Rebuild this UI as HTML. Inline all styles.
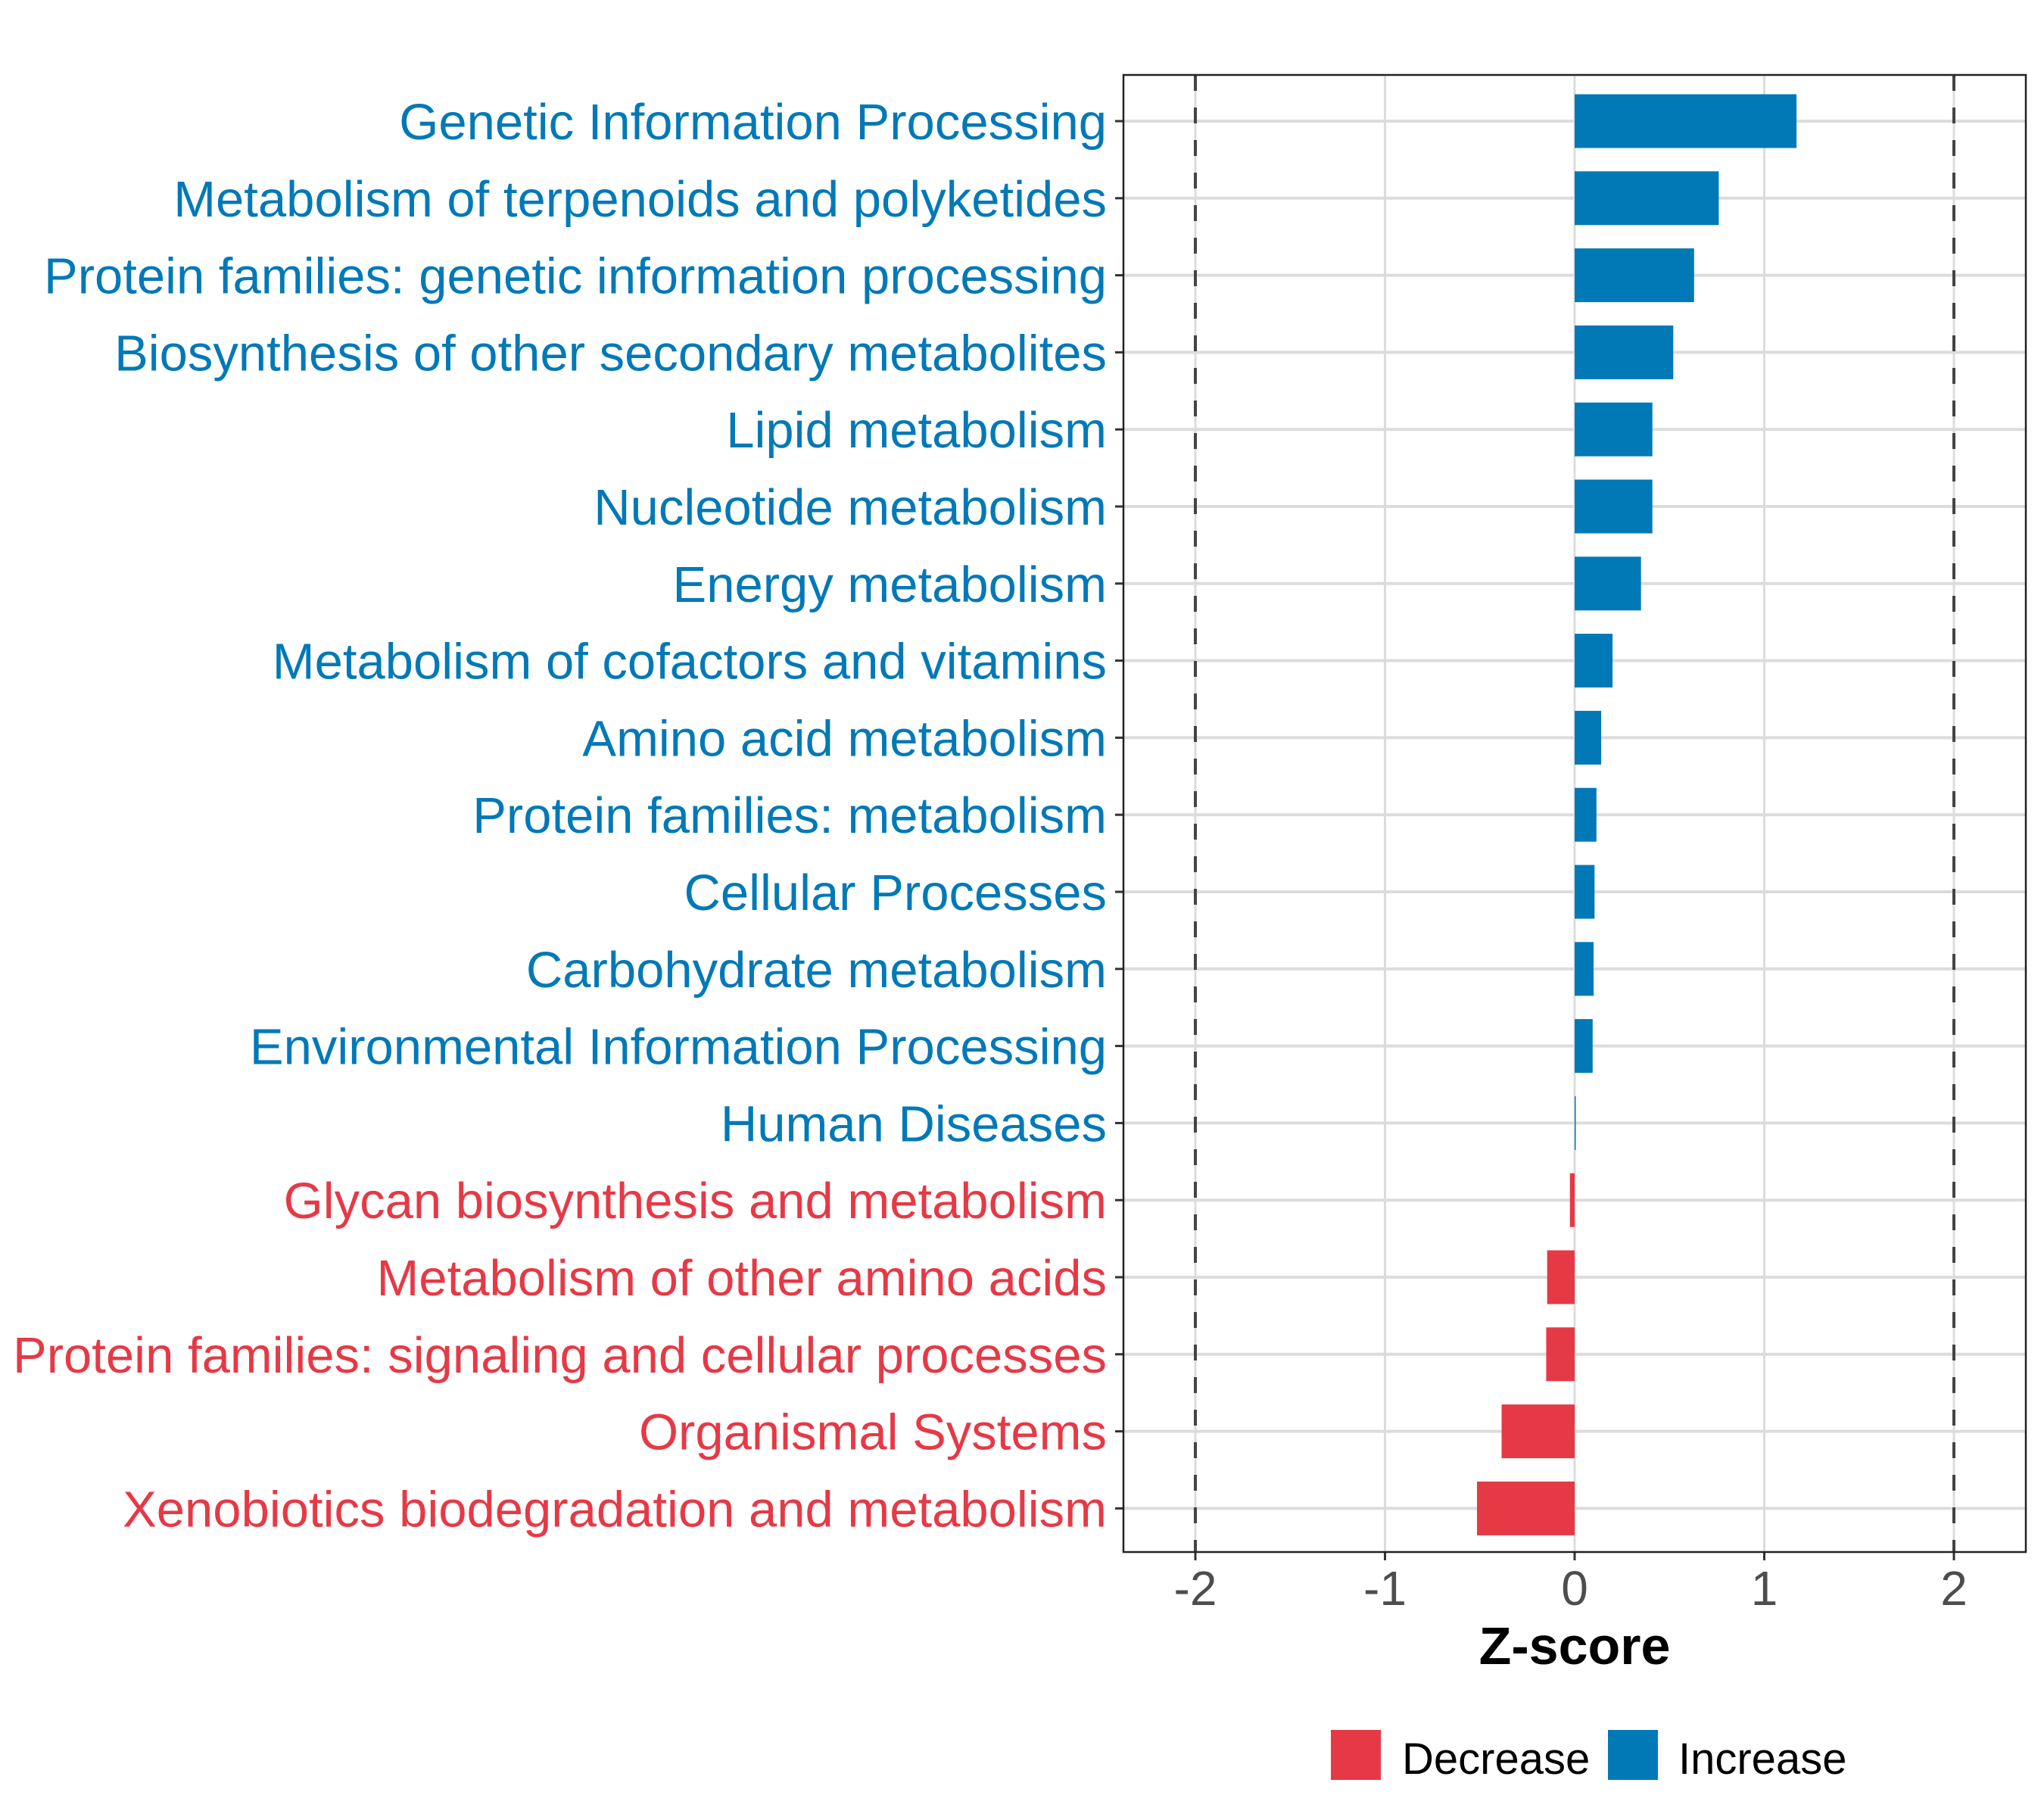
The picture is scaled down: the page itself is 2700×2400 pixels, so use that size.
<!DOCTYPE html>
<html><head><meta charset="utf-8"><style>
html,body{margin:0;padding:0;background:#fff;}
svg{display:block;font-family:"Liberation Sans",Arial,sans-serif;}
</style></head><body>
<svg id="chart" width="2700" height="2400" viewBox="0 0 2700 2400" xmlns="http://www.w3.org/2000/svg">
<rect width="2700" height="2400" fill="#fff"/>
<g id="grid"></g>
<g id="bars"></g>
<g id="labels"></g>
<g id="xaxis"></g>
<rect x="1484" y="99" width="1192" height="1951" fill="none" stroke="#222" stroke-width="2.5"/>
<text x="2080" y="2198" text-anchor="middle" font-size="70" font-weight="bold" fill="#000">Z-score</text>
<g>
<rect x="1758" y="2285" width="66" height="66" fill="#E63946"/>
<text x="1852" y="2343" font-size="58" fill="#000">Decrease</text>
<rect x="2124" y="2285" width="66" height="66" fill="#0279B7"/>
<text x="2217" y="2343" font-size="58" fill="#000">Increase</text>
</g>
</svg>
<script>
const categories = ["Genetic Information Processing","Metabolism of terpenoids and polyketides","Protein families: genetic information processing","Biosynthesis of other secondary metabolites","Lipid metabolism","Nucleotide metabolism","Energy metabolism","Metabolism of cofactors and vitamins","Amino acid metabolism","Protein families: metabolism","Cellular Processes","Carbohydrate metabolism","Environmental Information Processing","Human Diseases","Glycan biosynthesis and metabolism","Metabolism of other amino acids","Protein families: signaling and cellular processes","Organismal Systems","Xenobiotics biodegradation and metabolism"];
const zscores = [1.17,0.76,0.63,0.52,0.41,0.41,0.35,0.20,0.14,0.115,0.105,0.10,0.095,0.005,-0.025,-0.145,-0.15,-0.385,-0.515];
const xTicks = [-2,-1,0,1,2];
const xTickLabels = ["-2","-1","0","1","2"];
const thresholds = [-2,2];
const NS="http://www.w3.org/2000/svg";
const x0=2080, unit=250.5, yTop=160, step=101.8, barH=71;
function xs(v){return x0+v*unit;}
function ys(i){return yTop+i*step;}
function mk(tag,attrs,parent){const e=document.createElementNS(NS,tag);for(const k in attrs)e.setAttribute(k,attrs[k]);parent.appendChild(e);return e;}
const grid=document.getElementById('grid'),bars=document.getElementById('bars'),labels=document.getElementById('labels'),xaxis=document.getElementById('xaxis');
xTicks.forEach((t,i)=>{
  const g=mk('line',{x1:xs(t),x2:xs(t),y1:99,y2:2050,stroke:'#dcdcdc','stroke-width':3},grid);
  
  
  const tk=mk('line',{x1:xs(t),x2:xs(t),y1:2050,y2:2061,stroke:'#333','stroke-width':3},xaxis);
  
  
  const tl=mk('text',{x:xs(t),y:2120,'text-anchor':'middle','font-size':64,fill:'#4d4d4d'},xaxis);
  
  
  tl.textContent=xTickLabels[i];
});
categories.forEach((c,i)=>{
  const g=mk('line',{x1:1484,x2:2676,y1:ys(i),y2:ys(i),stroke:'#dcdcdc','stroke-width':4},grid);
  
  
});
thresholds.forEach(t=>{
  const d=mk('line',{x1:xs(t),x2:xs(t),y1:99,y2:2050,stroke:'#444','stroke-width':4,'stroke-dasharray':'21 22'},grid);
  
  
});
categories.forEach((c,i)=>{
  const v=zscores[i];
  const col=v>=0?'#0279B7':'#E63946';
  const x=Math.min(xs(0),xs(v)),w=Math.max(Math.abs(xs(v)-xs(0)),1.5);
  const b=mk('rect',{x:x,y:ys(i)-barH/2,width:w,height:barH,fill:col},bars);
  
  
  const t=mk('text',{x:1462,y:ys(i)+24,'text-anchor':'end','font-size':67,fill:col},labels);
  
  
  t.textContent=c;
  const tk=mk('line',{x1:1473,x2:1484,y1:ys(i),y2:ys(i),stroke:'#333','stroke-width':3},labels);
  
  
});
</script>
</body></html>
